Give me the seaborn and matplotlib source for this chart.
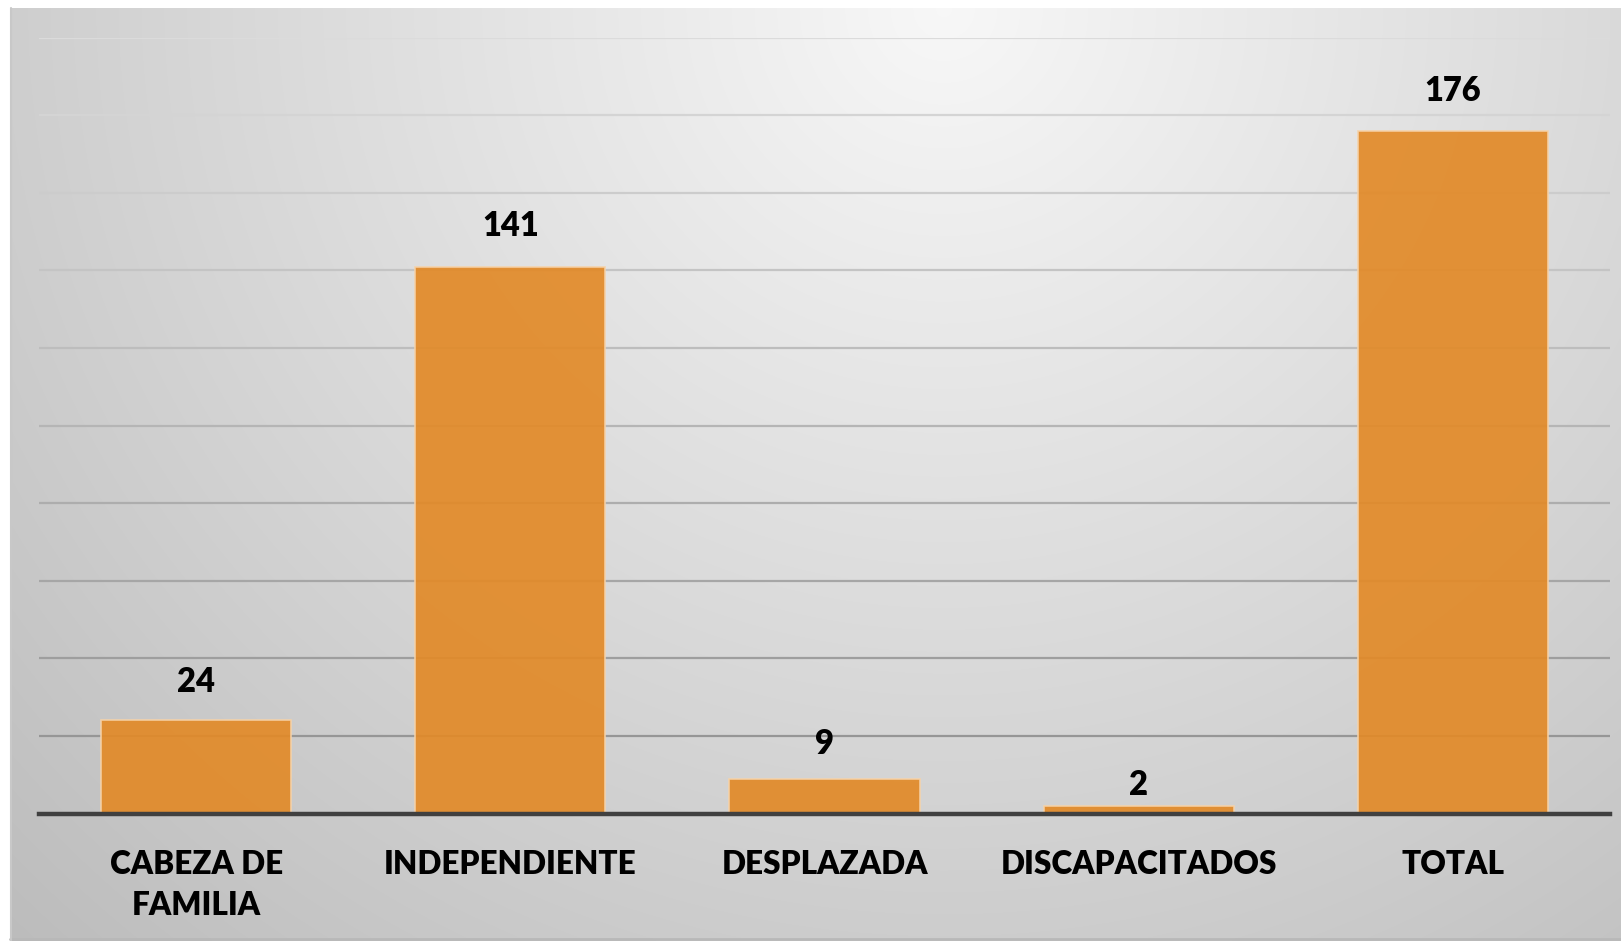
import numpy as np
import pandas as pd
import matplotlib
matplotlib.use("Agg")
import matplotlib.pyplot as plt
import seaborn as sns

categories = ["CABEZA DE\nFAMILIA", "INDEPENDIENTE", "DESPLAZADA", "DISCAPACITADOS", "TOTAL"]
values = [24, 141, 9, 2, 176]

sns.set_theme(style="white")
plt.rcParams['font.family'] = ['Lato', 'DejaVu Sans']

W, H = 1621, 941
fig = plt.figure(figsize=(W / 100, H / 100), dpi=100)
fig.patch.set_facecolor("white")

# background panel with radial gradient
bx0, by1 = 10 / W, 1 - 8 / H
bg = fig.add_axes([bx0, 0, 1 - bx0, by1])
ny, nx = 300, 500
yy, xx = np.mgrid[0:1:ny * 1j, 0:1:nx * 1j]
cx, cy = 0.58, 0.0
r = np.sqrt(((xx - cx) / 0.72) ** 2 + ((yy - cy) / 1.2) ** 2)
r = np.clip(r, 0, 1.2)
val = 0.97 - 0.2 * r
img = np.dstack([val, val, val])
bg.imshow(img, aspect="auto", extent=[0, 1, 1, 0], interpolation="bilinear")
bg.set_axis_off()
bg.plot([0, 1], [0.002, 0.002], color="#b8b8b8", lw=2, transform=bg.transAxes, clip_on=False)
bg.plot([0.0005, 0.0005], [0, 1], color="#c8c8c8", lw=1.5, transform=bg.transAxes, clip_on=False)

ax = fig.add_axes([39 / W, 1 - 813.5 / H, (1610 - 39) / W, (813.5 - 37.7) / H])
ax.patch.set_alpha(0)

df = pd.DataFrame({"cat": categories, "val": values})
sns.barplot(data=df, x="cat", y="val", ax=ax, color="#E28A28", width=0.605,
            saturation=1, alpha=0.92, edgecolor="#F6D2A8", linewidth=1.2, zorder=3)

ax.set_ylim(0, 200)
ax.set_xlim(-0.5, 4.5)
ax.set_yticks(np.arange(20, 201, 20))
for yv in np.arange(20, 201, 20):
    shade = 0.56 + 0.3 * (yv / 200)
    ax.axhline(yv, color=(shade, shade, shade), lw=1.6, zorder=1)
ax.tick_params(axis="y", left=False, labelleft=False)
ax.tick_params(axis="x", bottom=False, pad=20)
for s in ["top", "right", "left"]:
    ax.spines[s].set_visible(False)
ax.spines["bottom"].set_color("#404040")
ax.spines["bottom"].set_linewidth(3.2)
ax.spines["bottom"].set_zorder(5)
ax.set_xlabel("")
ax.set_ylabel("")
for lab in ax.get_xticklabels():
    lab.set_fontsize(22.7)
    lab.set_fontweight("heavy")
    lab.set_color("#000000")
    lab.set_linespacing(1.52)
    lab.set_verticalalignment("top")

label_offsets = [28, 29, 25, 15, 29]
for i, v in enumerate(values):
    ax.annotate(str(v), (i, v), xytext=(0, label_offsets[i]), textcoords="offset points",
                ha="center", va="center", fontsize=23.5, fontweight="heavy", color="#000000")

fig.savefig("out.png", dpi=100, facecolor="white")
